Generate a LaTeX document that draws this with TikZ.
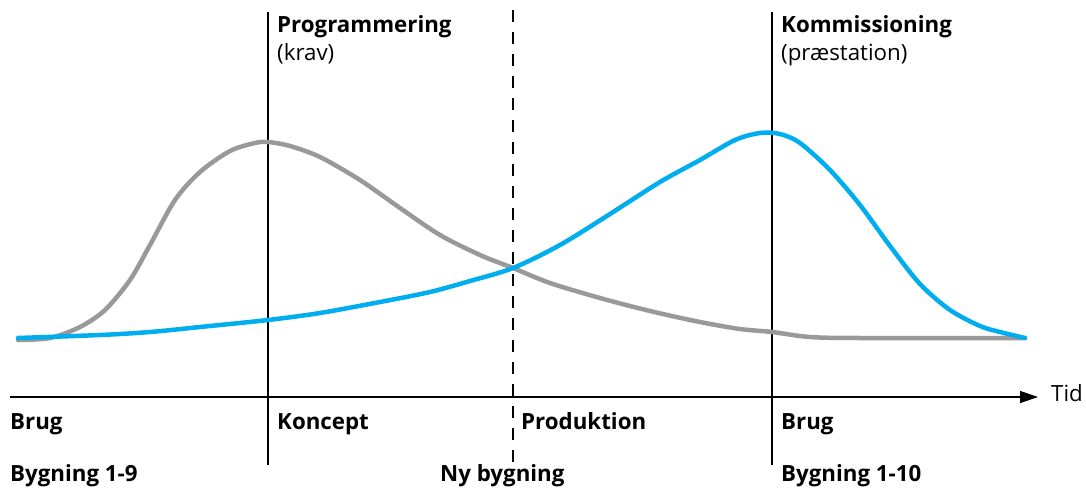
\documentclass[tikz,border=0pt]{standalone}
\usepackage{fontspec}
\setmainfont{Open Sans}
\usetikzlibrary{arrows.meta}
\definecolor{curveblue}{HTML}{00AEEF}
\definecolor{curvegray}{HTML}{999999}

\begin{document}
\begin{tikzpicture}[x=1pt,y=-1pt,
    every node/.style={inner sep=0pt,anchor=base west,font=\fontsize{22.3}{26}\selectfont},
    phase/.style={font=\fontsize{22.3}{26}\selectfont\bfseries},
    curve/.style={line width=4.5pt,line join=round,line cap=round}]
    \useasboundingbox (0,0) rectangle (1086,488);
    % time axis
    \node (tid) at (1051,401) {Tid};
    \coordinate (o) at (10,397);
    \draw[line width=1.3pt,-{Triangle[length=18pt,width=12pt]}]
        (o) -- ([xshift=-13pt]o -| tid.west);
    % phase boundaries
    \coordinate (kt) at (268,12);
    \coordinate (kb) at (268,465);
    \coordinate (ct) at (772,12);
    \coordinate (cb) at (772,465);
    \coordinate (nt) at (513,10);
    \coordinate (nb) at (513,465);
    \draw[line width=1.3pt] (kt) -- (kb);
    \draw[line width=1.3pt] (ct) -- (cb);
    \draw[line width=1.3pt,dash pattern=on 12pt off 10pt] (nt) -- (nb);
    % gray curve
    \draw[curve,curvegray] plot[smooth,tension=0.5] coordinates {
        (18,340) (50,338) (80,327) (105,310) (130,280) (150,245) (175,200)
        (200,172) (230,151) (255,143) (268,142) (290,146) (320,157) (360,180)
        (400,208) (440,235) (480,255) (513,268) (550,283) (600,298) (650,311)
        (700,322) (740,329) (772,332) (810,337) (860,338) (1025,338)};
    % blue curve
    \draw[curve,curveblue] plot[smooth,tension=0.5] coordinates {
        (18,338) (100,335) (150,332) (200,327) (268,320) (320,313) (380,302)
        (430,292) (470,281) (513,268) (560,245) (610,214) (660,182) (700,160)
        (735,140) (760,133) (780,134) (800,143) (830,170) (860,205) (890,246)
        (920,284) (950,310) (980,326) (1000,332) (1025,338)};
    % labels above
    \node[phase] (prog) at (277,32) {Programmering};
    \node (krav) at (277,60) {(krav)};
    \node[phase] (komm) at (781,32) {Kommissioning};
    \node (praes) at (781,60) {(præstation)};
    % labels below
    \node[phase] (brug1) at (10,429) {Brug};
    \node[phase] (konc) at (277,429) {Koncept};
    \node[phase] (prod) at (521,429) {Produktion};
    \node[phase] (brug2) at (781,429) {Brug};
    \node[phase] (byg1) at (10,481) {Bygning 1-9};
    \node[phase] (nyb) at (440,481) {Ny bygning};
    \node[phase] (byg2) at (781,481) {Bygning 1-10};
\end{tikzpicture}
\end{document}
